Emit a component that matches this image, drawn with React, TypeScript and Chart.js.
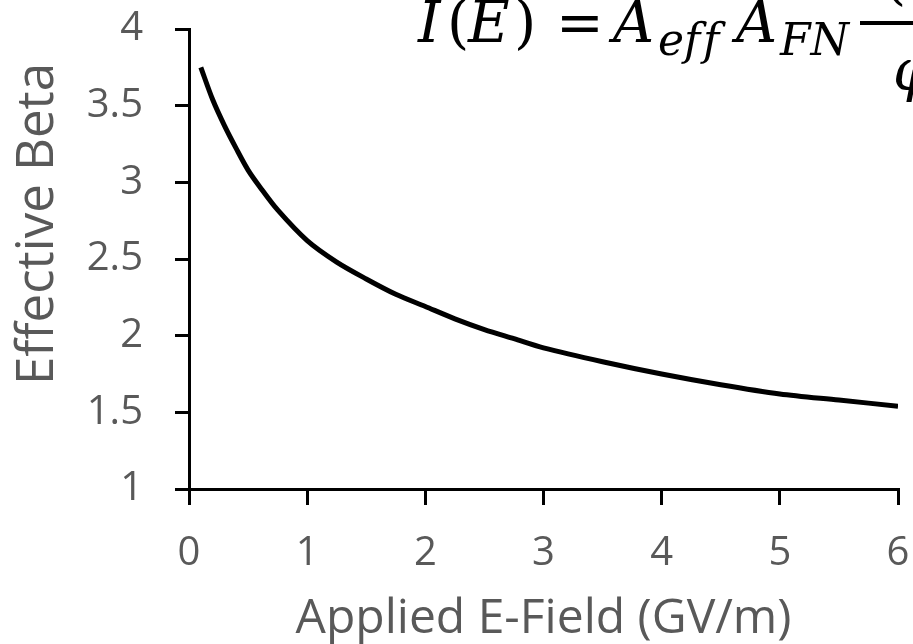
import React, { useEffect, useRef } from "react";
import { Chart, registerables } from "chart.js";

Chart.register(...registerables);

// Applied E-field (GV/m)
const fieldGVm = [0.1, 0.2, 0.3, 0.4, 0.5, 0.6, 0.75, 1.0, 1.25, 1.5, 1.75, 2.0, 2.25, 2.5, 2.75, 3.0, 3.5, 4.0, 4.5, 5.0, 5.5, 6.0];
// Effective beta
const effectiveBeta = [3.75, 3.54, 3.37, 3.22, 3.08, 2.97, 2.82, 2.62, 2.48, 2.37, 2.27, 2.19, 2.11, 2.04, 1.98, 1.92, 1.83, 1.75, 1.68, 1.62, 1.58, 1.54];

const xTitle = "Applied E-Field (GV/m)";
const yTitle = "Effective Beta";

const GREY = "#595959";
const FONT = "'Open Sans', sans-serif";

const yTitlePlugin = {
  id: "yTitle",
  afterDraw(chart: any) {
    const ctx = chart.ctx as CanvasRenderingContext2D;
    ctx.save();
    ctx.fillStyle = GREY;
    ctx.font = `51px ${FONT}`;
    ctx.textAlign = "center";
    ctx.textBaseline = "middle";
    ctx.translate(38, 224);
    ctx.rotate(-Math.PI / 2);
    ctx.fillText(yTitle, 0, 0);
    ctx.restore();
  },
};

const formulaPlugin = {
  id: "formula",
  afterDraw(chart: any) {
    const ctx = chart.ctx as CanvasRenderingContext2D;
    ctx.save();
    ctx.fillStyle = "#000";
    ctx.textAlign = "left";
    ctx.textBaseline = "alphabetic";
    const main = "italic 57px 'DejaVu Serif', serif";
    const up = "57px 'DejaVu Serif', serif";
    const sub = "italic 44px 'DejaVu Serif', serif";
    const parts: [string, string, number, number][] = [
      ["I", main, 418, 42],
      ["(", up, 447, 42],
      ["E", main, 468, 42],
      [")", up, 514, 42],
      ["=", up, 556, 42],
      ["A", main, 613, 42],
      ["e", sub, 658, 55],
      ["f", sub, 684, 55],
      ["f", sub, 703, 55],
      ["A", main, 736, 42],
      ["FN", sub, 780, 55],
      ["(", up, 884, -2],
      ["φ", main, 893, 90],
    ];
    for (const [t, f, x, y] of parts) {
      ctx.font = f;
      ctx.fillText(t, x, y);
    }
    ctx.fillRect(860, 21, 60, 4);
    ctx.restore();
  },
};

const zeroPad = (s: any) => {
  s.paddingTop = 0;
  s.paddingBottom = 0;
  s.paddingLeft = 0;
  s.paddingRight = 0;
};

export default function App() {
  const ref = useRef<HTMLCanvasElement | null>(null);

  useEffect(() => {
    if (!ref.current) return;
    const chart = new Chart(ref.current, {
      type: "line",
      data: {
        datasets: [
          {
            data: fieldGVm.map((x, i) => ({ x, y: effectiveBeta[i] })),
            borderColor: "#000",
            borderWidth: 5,
            pointRadius: 0,
            tension: 0.3,
            fill: false,
          },
        ],
      },
      options: {
        animation: false,
        responsive: false,
        maintainAspectRatio: false,
        layout: { padding: { top: 29, right: 15, left: 0, bottom: 0 } },
        plugins: { legend: { display: false }, tooltip: { enabled: false } },
        scales: {
          x: {
            type: "linear",
            min: 0,
            max: 6,
            afterFit: (s: any) => {
              s.height = 155;
              zeroPad(s);
            },
            ticks: { stepSize: 1, color: GREY, font: { family: FONT, size: 40 }, padding: 25, maxRotation: 0 },
            grid: { drawOnChartArea: false, drawTicks: true, tickLength: 16, color: "#000", lineWidth: 3 },
            border: { color: "#000", width: 3 },
            title: {
              display: true,
              text: xTitle,
              color: GREY,
              font: { family: FONT, size: 48, lineHeight: 1 },
              padding: { top: 0, bottom: 1 },
            },
          },
          y: {
            type: "linear",
            min: 1,
            max: 4,
            afterFit: (s: any) => {
              s.width = 189;
              zeroPad(s);
            },
            ticks: {
              stepSize: 0.5,
              color: GREY,
              font: { family: FONT, size: 40 },
              padding: 32,
              callback: (v: any) => String(Number(v)),
            },
            grid: { drawOnChartArea: false, drawTicks: true, tickLength: 14, color: "#000", lineWidth: 3 },
            border: { color: "#000", width: 3 },
            title: { display: false },
          },
        },
      },
      plugins: [yTitlePlugin, formulaPlugin],
    });
    return () => chart.destroy();
  }, []);

  return (
    <div style={{ position: "fixed", left: 0, top: 0, width: 913, height: 644, background: "#fff" }}>
      <canvas ref={ref} width={913} height={644} style={{ display: "block", width: 913, height: 644 }} />
    </div>
  );
}
